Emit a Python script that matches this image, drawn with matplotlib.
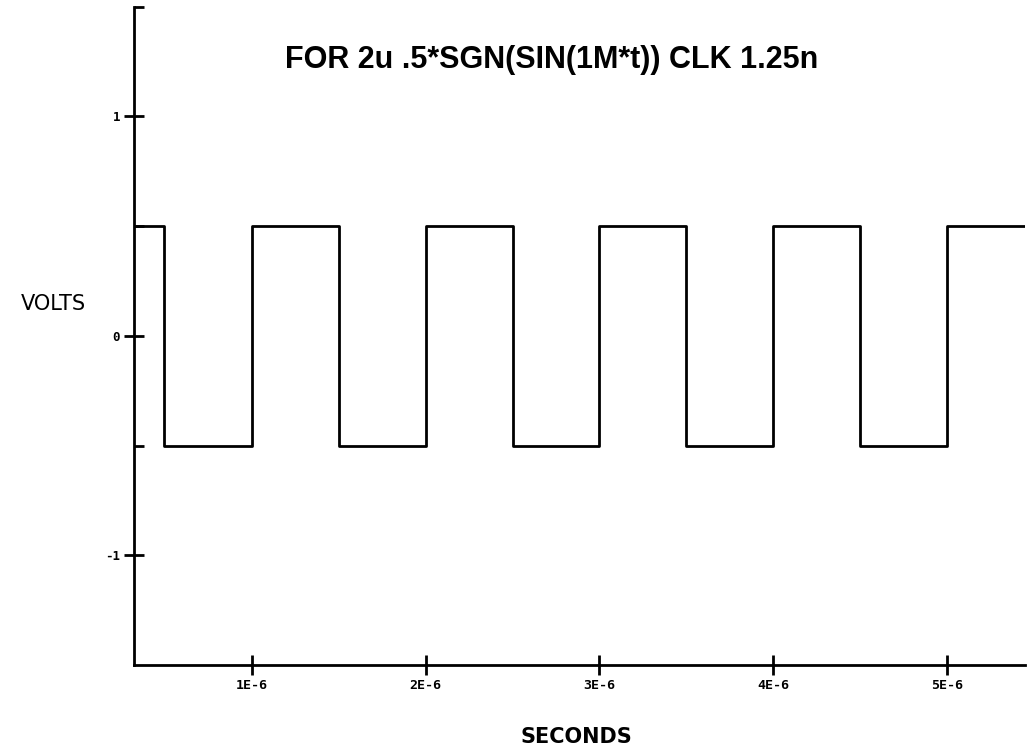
import numpy as np
import matplotlib
matplotlib.use("Agg")
import matplotlib.pyplot as plt

# square wave: switching instants (s) and level after each
t_switch = [0.32e-6, 0.49e-6, 1.0e-6, 1.5e-6, 2.0e-6, 2.5e-6, 3.0e-6,
            3.5e-6, 4.0e-6, 4.5e-6, 5.0e-6]
v_level = [0.5, -0.5, 0.5, -0.5, 0.5, -0.5, 0.5, -0.5, 0.5, -0.5, 0.5]
t_end = 5.45e-6

x_ticks = [1e-6, 2e-6, 3e-6, 4e-6, 5e-6]
x_labels = ["1E-6", "2E-6", "3E-6", "4E-6", "5E-6"]
y_major = [-1, 0, 1]
y_labels = ["-1", "0", "1"]
y_minor = [-0.5, 0.5, 1.5]

TITLE = "FOR 2u .5*SGN(SIN(1M*t)) CLK 1.25n"

fig = plt.figure(figsize=(10.31, 7.54), dpi=100)
ax = fig.add_axes([0.130, 0.118, 0.864, 0.873])

ts = list(t_switch) + [t_end]
vs = list(v_level) + [v_level[-1]]
ax.step(ts, vs, where="post", color="black", lw=2.0,
        solid_joinstyle="round")

ax.set_xlim(0.32e-6, 5.45e-6)
ax.set_ylim(-1.5, 1.5)

for s in ["top", "right"]:
    ax.spines[s].set_visible(False)
for s in ["left", "bottom"]:
    ax.spines[s].set_linewidth(2.0)

ax.set_xticks(x_ticks)
ax.set_xticklabels(x_labels, fontsize=9.5, fontweight="bold",
                   family="DejaVu Sans Mono")
ax.set_yticks(y_major)
ax.set_yticklabels(y_labels, fontsize=9, fontweight="bold",
                   family="DejaVu Sans Mono")
ax.set_yticks(y_minor, minor=True)
ax.tick_params(axis="both", which="major", direction="inout", length=14,
               width=2.0, pad=3)
ax.tick_params(axis="y", which="minor", direction="in", length=7, width=2.0)

fig.text(0.535, 0.920, TITLE, ha="center", va="center", fontsize=22,
         fontweight="bold", family="Liberation Sans")
fig.text(0.052, 0.597, "VOLTS", ha="center", va="center", fontsize=15,
         family="DejaVu Sans")
fig.text(0.559, 0.022, "SECONDS", ha="center", va="center", fontsize=15,
         fontweight="bold", family="DejaVu Sans")

fig.savefig("out.png", dpi=100)
